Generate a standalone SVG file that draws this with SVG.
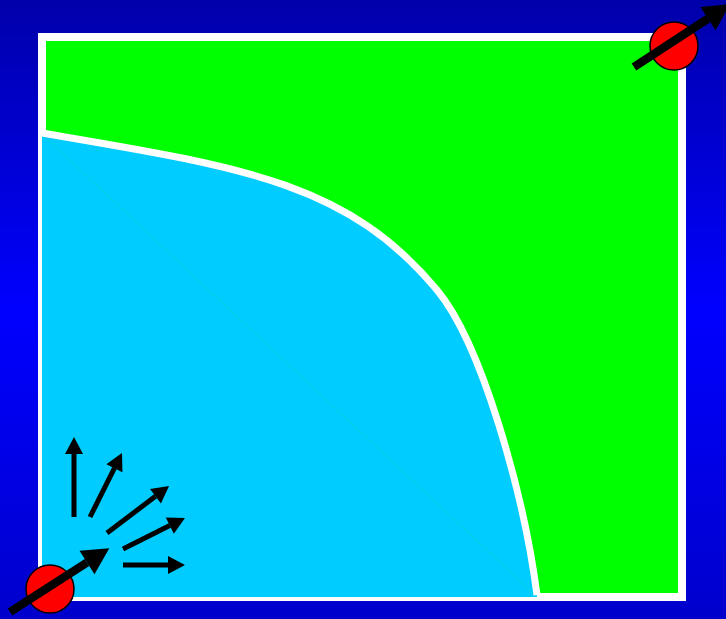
<svg xmlns="http://www.w3.org/2000/svg" width="726" height="619" viewBox="0 0 726 619">
  <style>
    .frame { fill: #00ff00; stroke: #ffffff; stroke-width: 8; }
    .curve { fill: none; stroke: #ffffff; stroke-width: 7; stroke-linejoin: round; }
    .ball { fill: #ff0000; stroke: #000000; stroke-width: 1.5; }
    .big { stroke: #000000; stroke-width: 8.5; fill: none; marker-end: url(#bighead); }
    .small { stroke: #000000; stroke-width: 5; fill: none; marker-end: url(#smallhead); }
  </style>
  <defs>
    <linearGradient id="bg" x1="0" y1="0" x2="0" y2="1">
      <stop offset="0" stop-color="#0000aa"/>
      <stop offset="0.5" stop-color="#0000ff"/>
      <stop offset="1" stop-color="#0000cc"/>
    </linearGradient>
    <marker id="bighead" markerUnits="userSpaceOnUse" markerWidth="30" markerHeight="30" viewBox="0 -13 24 26" refX="0" refY="0" orient="auto">
      <path d="M0,-12 L23,0 L0,12 z" fill="#000000"/>
    </marker>
    <marker id="smallhead" markerUnits="userSpaceOnUse" markerWidth="20" markerHeight="20" viewBox="0 -10 18 20" refX="0" refY="0" orient="auto">
      <path d="M0,-9 L17,0 L0,9 z" fill="#000000"/>
    </marker>
  </defs>

  <rect id="background" x="0" y="0" width="726" height="619" fill="url(#bg)"/>

  <g id="green-region">
    <rect class="frame" x="42" y="37" width="640" height="560"/>
  </g>

  <g id="blue-region">
    <path fill="#00ccff" d="M42,133 C242,167 347,182 437,290 C482,344 524,495 537,597 L42,597 Z"/>
    <line x1="44" y1="136" x2="536" y2="596" stroke="#00d8c8" stroke-width="1" opacity="0.6"/>
  </g>

  <g id="boundary-curve">
    <path class="curve" d="M42,133 C242,167 347,182 437,290 C482,344 524,495 537,595"/>
  </g>

  <g id="particle-in">
    <circle class="ball" cx="50" cy="589" r="24"/>
  </g>

  <g id="particle-out">
    <circle class="ball" cx="674" cy="46" r="24"/>
  </g>

  <g id="connectors">
    <line class="big" x1="10" y1="612" x2="87" y2="562.5"/>
    <line class="big" x1="634" y1="67" x2="708" y2="18.6"/>
    <line class="small" x1="74" y1="517" x2="74" y2="454"/>
    <line class="small" x1="90" y1="517" x2="114.4" y2="468.2"/>
    <line class="small" x1="107" y1="533" x2="155.5" y2="496.3"/>
    <line class="small" x1="123" y1="549" x2="169.8" y2="525.6"/>
    <line class="small" x1="123" y1="565" x2="168" y2="565"/>
  </g>
</svg>
